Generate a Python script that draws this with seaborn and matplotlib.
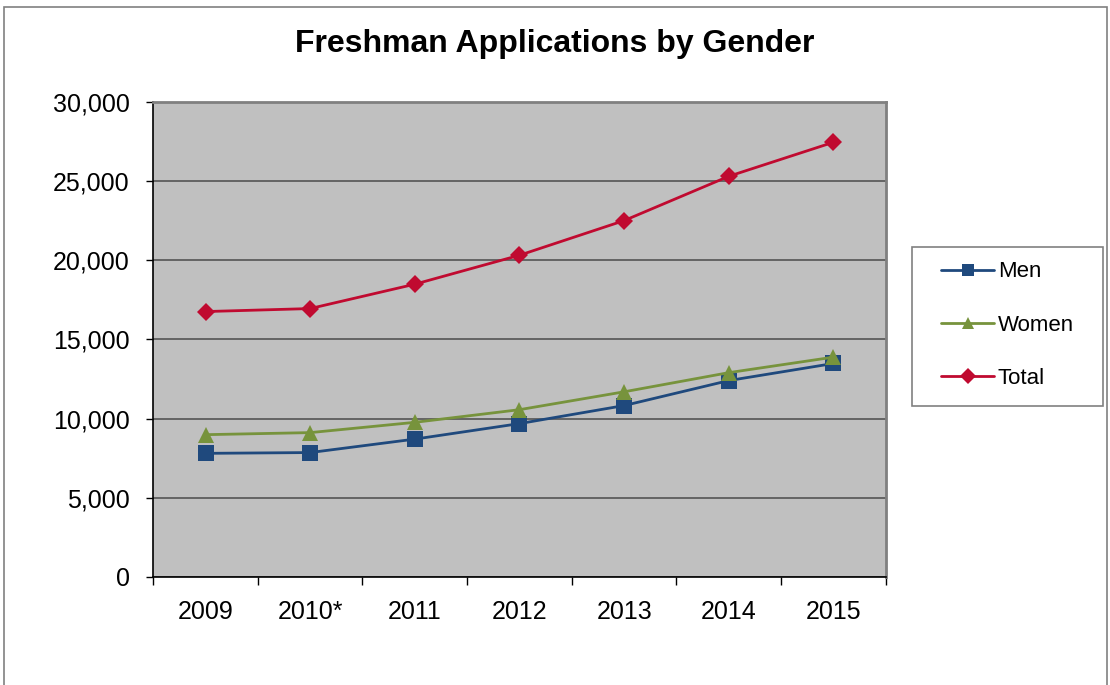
"""
Freshman Applications by Gender - line chart.
"""

import matplotlib
matplotlib.use("Agg")
import matplotlib.pyplot as plt
import matplotlib.ticker as mticker
from matplotlib.patches import Rectangle
import seaborn as sns
import pandas as pd

# Данные
years = ["2009", "2010*", "2011", "2012", "2013", "2014", "2015"]
men = [7800, 7850, 8700, 9680, 10820, 12400, 13480]
women = [8980, 9110, 9760, 10560, 11690, 12900, 13880]
total = [16760, 16950, 18490, 20320, 22510, 25310, 27460]

series_names = ["Men", "Women", "Total"]
colors = {"Men": "#1F497D", "Women": "#77933C", "Total": "#C00A30"}
markers = {"Men": "s", "Women": "^", "Total": "D"}
marker_sizes = {"Men": 11, "Women": 11, "Total": 9}
legend_marker_sizes = {"Men": 9, "Women": 9, "Total": 8}

sns.set_style("white")
plt.rcParams["font.family"] = ["Liberation Sans", "DejaVu Sans"]
plt.rcParams["text.color"] = "black"
plt.rcParams["xtick.color"] = "black"
plt.rcParams["ytick.color"] = "black"

rows = []
for name, vals in zip(series_names, [men, women, total]):
    for i, v in enumerate(vals):
        rows.append({"pos": i, "year": years[i], "value": v, "series": name})
df = pd.DataFrame(rows)

fig = plt.figure(figsize=(11.1, 6.85), dpi=100)
ax = fig.add_axes([0.138, 0.158, 0.660, 0.693])
ax.set_facecolor("#C0C0C0")

for name in series_names:
    sub = df[df["series"] == name]
    sns.lineplot(data=sub, x="pos", y="value", ax=ax, color=colors[name],
                 marker=markers[name], markersize=marker_sizes[name],
                 markeredgewidth=0, linewidth=2.0, label=name)

# Оси
ax.set_xlim(-0.5, len(years) - 0.5)
ax.set_ylim(0, 30000)
ax.yaxis.set_major_locator(mticker.MultipleLocator(5000))
ax.yaxis.set_major_formatter(mticker.FuncFormatter(lambda v, p: f"{int(v):,}"))
ax.grid(axis="y", color="#555555", linewidth=1.2)
ax.set_axisbelow(True)

ax.set_xticks([i - 0.5 for i in range(len(years) + 1)])
ax.set_xticklabels([])
ax.set_xticks(range(len(years)), minor=True)
ax.set_xticklabels(years, minor=True)
ax.tick_params(axis="x", which="major", direction="out", length=6, width=1, color="black")
ax.tick_params(axis="x", which="minor", length=0, pad=17, labelsize=18)
ax.tick_params(axis="y", direction="out", length=5, width=1, color="black", labelsize=18, pad=12)
ax.tick_params(bottom=True, left=True)

for side in ["left", "bottom"]:
    ax.spines[side].set_color("black")
    ax.spines[side].set_linewidth(1.2)
for side in ["top", "right"]:
    ax.spines[side].set_color("#808080")
    ax.spines[side].set_linewidth(2)

ax.set_xlabel("")
ax.set_ylabel("")

fig.text(0.5, 0.924, "Freshman Applications by Gender", ha="center", va="baseline",
         fontsize=23, fontweight="bold")

# Легенда (рамка отдельно)
leg = ax.legend(loc="center left", bbox_to_anchor=(941 / 1110, 1 - 325 / 685),
                bbox_transform=fig.transFigure, frameon=False, fontsize=16,
                handlelength=2.4, labelspacing=1.45, borderpad=0,
                handletextpad=0.15, borderaxespad=0)
for line, name in zip(leg.get_lines(), series_names):
    line.set_markersize(legend_marker_sizes[name])
    line.set_linewidth(2.0)

fig.patches.append(Rectangle((912 / 1110, 1 - 406 / 685), 191 / 1110, 159 / 685,
                             transform=fig.transFigure, fill=False,
                             edgecolor="#808080", linewidth=1.2))

# Внешняя рамка
fig.patches.append(Rectangle((0.004, -0.01), 0.993, 1.0, transform=fig.transFigure,
                             fill=False, edgecolor="#808080", linewidth=1.2))

fig.savefig("out.png", dpi=100)
